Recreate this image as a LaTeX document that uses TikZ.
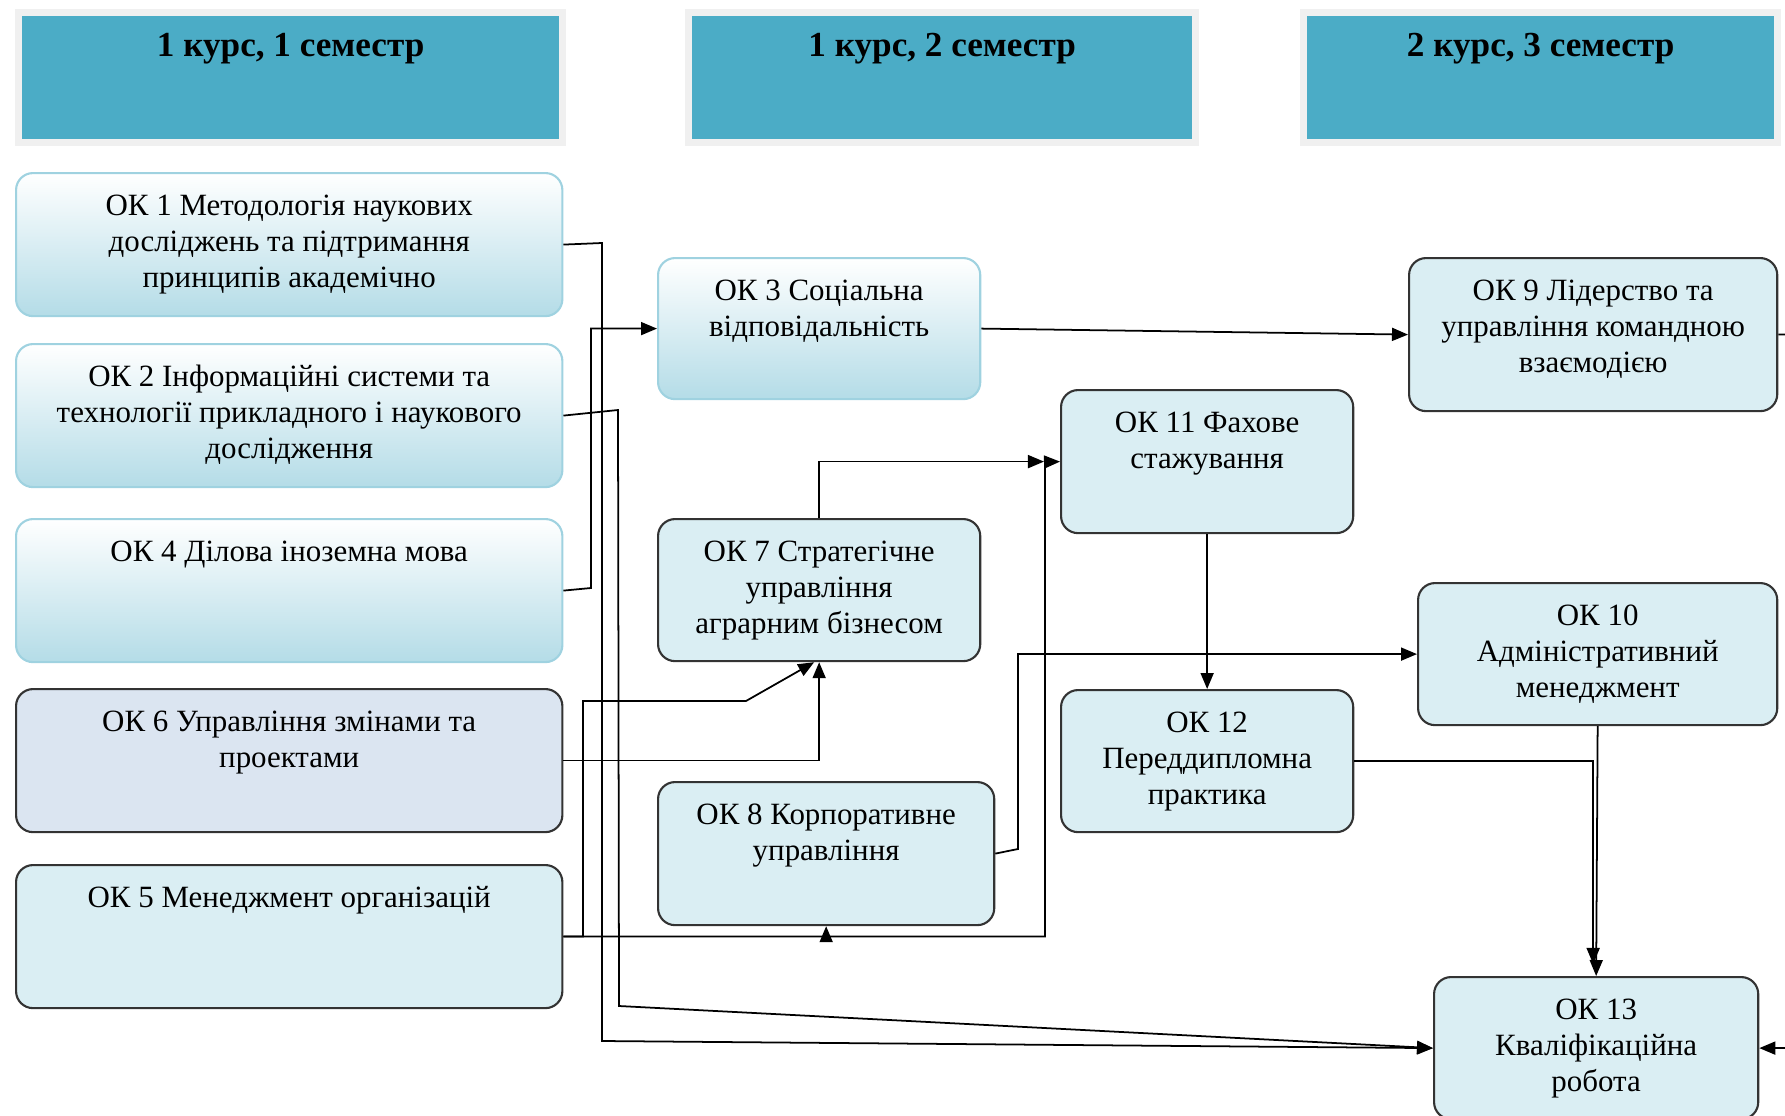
\documentclass[tikz,border=0pt]{standalone}
\usepackage{fontspec}
\setmainfont{Liberation Serif}
\usetikzlibrary{arrows.meta}

\definecolor{hdteal}{HTML}{4BACC6}
\definecolor{hdgray}{HTML}{F0F0F0}
\definecolor{okfill}{HTML}{DAEEF3}
\definecolor{oklav}{HTML}{DBE5F1}
\definecolor{gradblue}{HTML}{B4DCE7}
\definecolor{gradline}{HTML}{9FD2E0}

\newcommand{\okfont}{\fontsize{8.8}{10.2}\selectfont}
\newcommand{\okt}[3]{\parbox[c][#2cm][t]{#1cm}{\centering\rule{0pt}{12.2pt}#3}}
\newcommand{\hdt}[3]{\parbox[c][#2cm][t]{#1cm}{\centering\rule{0pt}{12.5pt}\bfseries\fontsize{10}{12}\selectfont #3}}

\begin{document}
\begin{tikzpicture}[x=0.01cm, y=-0.01cm,
    hdr/.style={draw=hdgray, line width=0.07cm, fill=hdteal, inner sep=0pt, anchor=north west},
    okbox/.style={rounded corners=0.17cm, inner sep=0pt, anchor=north west, font=\okfont, line width=0.6pt},
    okplain/.style={okbox, draw=black!80, fill=okfill},
    oklav/.style={okbox, draw=black!80, fill=oklav},
    okgrad/.style={okbox, draw=gradline, top color=white, middle color=gradblue!30!white, bottom color=gradblue},
    arr/.style={draw, line width=0.5pt, -{Triangle[length=0.16cm,width=0.13cm]}}]
    \useasboundingbox (0,0) rectangle (1785,1115);
    % Заголовки семестрів
    \node[hdr] (sem1) at (15,9) {\hdt{5.44}{1.295}{1 курс, 1 семестр}};
    \node[hdr] (sem2) at (685,9) {\hdt{5.07}{1.295}{1 курс, 2 семестр}};
    \node[hdr] (sem3) at (1300,9) {\hdt{4.74}{1.295}{2 курс, 3 семестр}};
    % 1 семестр
    \node[okgrad] (ok1) at (15,172) {\okt{5.46}{1.43}{ОК 1 Методологія наукових\\ досліджень та підтримання\\ принципів академічно}};
    \node[okgrad] (ok2) at (15,343) {\okt{5.46}{1.43}{ОК 2 Інформаційні системи та\\ технології прикладного і наукового\\ дослідження}};
    \node[okgrad] (ok4) at (15,518) {\okt{5.46}{1.43}{ОК 4 Ділова іноземна мова}};
    \node[oklav] (ok6) at (15,688) {\okt{5.46}{1.43}{ОК 6 Управління змінами та\\ проектами}};
    \node[okplain] (ok5) at (15,864) {\okt{5.46}{1.43}{ОК 5 Менеджмент організацій}};
    % 2 семестр
    \node[okgrad] (ok3) at (657,257) {\okt{3.22}{1.41}{ОК 3 Соціальна\\ відповідальність}};
    \node[okplain] (ok7) at (657,518) {\okt{3.22}{1.42}{ОК 7 Стратегічне\\ управління\\ аграрним бізнесом}};
    \node[okplain] (ok8) at (657,781) {\okt{3.36}{1.43}{ОК 8 Корпоративне\\ управління}};
    \node[okplain] (ok11) at (1060,389) {\okt{2.92}{1.43}{ОК 11 Фахове\\ стажування}};
    \node[okplain] (ok12) at (1060,689) {\okt{2.92}{1.42}{ОК 12\\ Переддипломна\\ практика}};
    % 3 семестр
    \node[okplain] (ok9) at (1408,257) {\okt{3.68}{1.53}{ОК 9 Лідерство та\\ управління командною\\ взаємодією}};
    \node[okplain] (ok10) at (1417,582) {\okt{3.59}{1.42}{ОК 10\\ Адміністративний\\ менеджмент}};
    \node[okplain] (ok13) at (1433,976) {\okt{3.24}{1.42}{ОК 13\\ Кваліфікаційна\\ робота}};
    % Зв'язки
    \draw[arr] (ok1.east) -- (602,243) -- (602,1041) -- (ok13.west);
    \draw[arr] (ok2.east) -- (618,410) -- (619,1006) -- (ok13.west);
    \draw[arr] (ok4.east) -- (591,588) |- (ok3.west);
    \draw[arr] (ok6.east) -| (ok7.south);
    \draw[arr] (ok5.east) -| (583,701) -- (746,701) -- ([xshift=-0.05cm]ok7.south);
    \draw[arr] (ok8.south |- ok5.east) -- (ok8.south);
    \draw[arr] (ok5.east) -| (1045,462) -- (ok11.west);
    \draw[arr, shorten >=0.16cm] (ok7.north) |- (ok11.west);
    \draw[arr] (ok3.east) -- (ok9.west);
    \draw[arr] (ok8.east) -- (1018,849) |- (ok10.west);
    \draw[arr] (ok11.south) -- (ok12.north);
    \draw[arr, shorten >=0.12cm] (ok12.east) -| ([xshift=-0.03cm]ok13.north);
    \draw[arr] (ok10.south) -- (ok13.north);
    \draw[arr] (ok9.east) -- (1800,334) |- (ok13.east);
\end{tikzpicture}
\end{document}
